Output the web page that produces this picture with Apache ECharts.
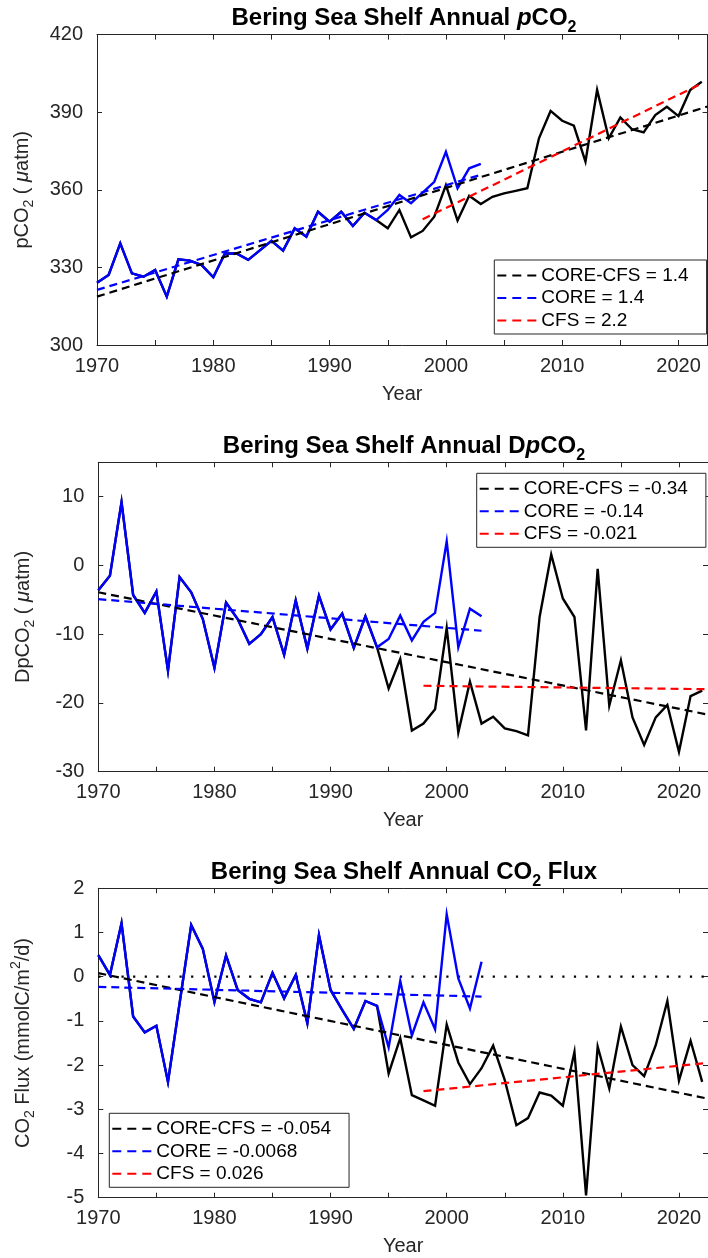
<!DOCTYPE html>
<html><head><meta charset="utf-8">
<script src="https://cdn.jsdelivr.net/npm/echarts@6/dist/echarts.min.js"></script>
<style>html,body{margin:0;padding:0;background:#fff}#c{width:708px;height:1258px}</style>
</head><body><div id="c"></div>
<script>
// ---------------- DATA ----------------
const years = [1970,1971,1972,1973,1974,1975,1976,1977,1978,1979,1980,1981,1982,1983,1984,1985,1986,1987,1988,1989,
  1990,1991,1992,1993,1994,1995,1996,1997,1998,1999,2000,2001,2002,2003,2004,2005,2006,2007,2008,2009,
  2010,2011,2012,2013,2014,2015,2016,2017,2018,2019,2020,2021,2022];
const coreYears = [1970,1971,1972,1973,1974,1975,1976,1977,1978,1979,1980,1981,1982,1983,1984,1985,1986,1987,1988,1989,
  1990,1991,1992,1993,1994,1995,1996,1997,1998,1999,2000,2001,2002,2003];

// Panel 1: pCO2 (uatm)
const pco2CoreCfs = [324.1,327.1,339.3,327.7,326.4,329.0,318.7,333.1,332.6,330.9,326.2,335.4,335.4,332.9,336.6,340.3,336.5,345.1,341.9,351.5,
  347.7,351.5,346.0,351.1,348.3,345.1,352.2,341.6,344.1,349.6,361.8,348.1,357.7,354.5,357.3,358.6,359.6,360.6,379.9,390.5,
  386.7,384.8,370.9,398.6,379.9,388.0,383.4,382.2,388.9,392.1,388.5,398.6,401.8];
const pco2Core = [324.1,327.1,339.3,327.7,326.4,329.0,318.7,333.1,332.6,330.9,326.2,335.4,335.4,332.9,336.6,340.3,336.5,345.1,341.9,351.5,
  347.7,351.5,346.0,351.1,348.3,352.2,358.0,354.8,358.9,363.1,374.7,360.6,368.3,370.0];
const pco2TrendCoreCfs = [[1970, 318.7], [2022.5, 392.2]];
const pco2TrendCore    = [[1970, 321.3], [2003, 365.8]];
const pco2TrendCfs     = [[1998, 348.6], [2022, 401.1]];

// Panel 2: DpCO2 (uatm)
const dpco2CoreCfs = [-3.6,-1.5,9.2,-4.3,-6.9,-3.8,-15.3,-1.7,-3.9,-7.8,-14.9,-5.4,-7.8,-11.4,-10.0,-7.5,-13.0,-5.1,-12.1,-4.4,
  -9.3,-7.0,-12.0,-7.4,-11.9,-17.9,-13.6,-24.0,-23.0,-20.9,-9.1,-24.3,-16.9,-23.0,-22.0,-23.7,-24.1,-24.7,-7.5,1.6,
  -4.8,-7.5,-24.0,-0.5,-20.4,-13.8,-22.1,-26.1,-22.1,-20.3,-27.1,-19.0,-18.2];
const dpco2Core = [-3.6,-1.5,9.2,-4.3,-6.9,-3.8,-15.3,-1.7,-3.9,-7.8,-14.9,-5.4,-7.8,-11.4,-10.0,-7.5,-13.0,-5.1,-12.1,-4.4,
  -9.3,-7.0,-12.0,-7.4,-11.9,-10.7,-7.3,-10.9,-8.2,-6.9,3.5,-11.9,-6.3,-7.4];
const dpco2TrendCoreCfs = [[1970, -3.9], [2022.5, -21.7]];
const dpco2TrendCore    = [[1970, -4.9], [2003, -9.5]];
const dpco2TrendCfs     = [[1998, -17.5], [2022.5, -18.0]];

// Panel 3: CO2 flux (mmolC/m2/d)
const fluxCoreCfs = [0.49,0.04,1.21,-0.90,-1.26,-1.11,-2.38,-0.60,1.17,0.63,-0.57,0.48,-0.30,-0.50,-0.58,0.09,-0.49,0.04,-1.05,0.94,
  -0.30,-0.75,-1.18,-0.55,-0.66,-2.19,-1.39,-2.68,-2.80,-2.92,-1.08,-1.94,-2.43,-2.07,-1.56,-2.34,-3.36,-3.20,-2.62,-2.69,
  -2.92,-1.70,-4.95,-1.58,-2.53,-1.13,-2.00,-2.25,-1.55,-0.55,-2.35,-1.45,-2.38];
const fluxCore = [0.49,0.04,1.21,-0.90,-1.26,-1.11,-2.38,-0.60,1.17,0.63,-0.57,0.48,-0.30,-0.50,-0.58,0.09,-0.49,0.04,-1.05,0.94,
  -0.30,-0.75,-1.18,-0.55,-0.66,-1.60,-0.10,-1.33,-0.58,-1.19,1.41,-0.04,-0.72,0.34];
const fluxTrendCoreCfs = [[1970, 0.08], [2022.5, -2.76]];
const fluxTrendCore    = [[1970, -0.23], [2003, -0.45]];
const fluxTrendCfs     = [[1998, -2.59], [2022.5, -1.95]];
const fluxZeroLine     = [[1970, 0], [2022.5, 0]];

const legendNames = [
  ['CORE-CFS = 1.4', 'CORE = 1.4', 'CFS = 2.2'],
  ['CORE-CFS = -0.34', 'CORE = -0.14', 'CFS = -0.021'],
  ['CORE-CFS = -0.054', 'CORE = -0.0068', 'CFS = 0.026']
];
const titles = [
  'Bering Sea Shelf Annual {i|p}CO{s|2}',
  'Bering Sea Shelf Annual D{i|p}CO{s|2}',
  'Bering Sea Shelf Annual CO{s|2} Flux'
];
const yNames = [
  'pCO{s|2} ( {i|μ}atm)',
  'DpCO{s|2} ( {i|μ}atm)',
  'CO{s|2} Flux (mmolC/m{u|2}/d)'
];
const yTicks = [
  {min: 300, max: 420, interval: 30},
  {min: -30, max: 15, interval: 10},
  {min: -5, max: 2, interval: 1}
];
const xTicks = {min: 1970, max: 2022.5, interval: 5, labelEvery: 10};

// ---------------- LAYOUT / STYLE ----------------
const FF = "'Liberation Sans', Arial, Helvetica, sans-serif";
const AX = '#262626';
const grids = [
  {left: 97,   top: 34.6,  width: 610.6, height: 310.4},
  {left: 98.3, top: 462.3, width: 609.9, height: 309.4},
  {left: 98.3, top: 888.3, width: 609.9, height: 309.4}
];
const legendBoxes = [
  {left: 494.3, top: 260},
  {left: 476.7, top: 473.3},
  {left: 109.3, top: 1113.3}
];
const DASH = [8, 5];
const LEGEND_ICON = 'path://M0,0H9V2H0Z M15,0H24V2H15Z M30,0H39V2H30Z';

const subRich = {
  i: {fontStyle: 'italic', fontFamily: FF, fontSize: 20, color: AX},
  s: {fontFamily: FF, fontSize: 14, color: AX, padding: [14, 0, 0, 0], lineHeight: 24},
  u: {fontFamily: FF, fontSize: 14, color: AX, padding: [0, 0, 14, 0], lineHeight: 24}
};
const titleRich = {
  i: {fontStyle: 'italic', fontWeight: 'bold', fontFamily: FF, fontSize: 24, color: '#000', lineHeight: 28},
  s: {fontWeight: 'bold', fontFamily: FF, fontSize: 16, color: '#000', padding: [18, 0, 0, 0], lineHeight: 28}
};

const xAxis = [], yAxis = [], title = [], legend = [], series = [];

grids.forEach((g, gi) => {
  const axLine = {show: true, onZero: false, lineStyle: {color: AX, width: 1}};
  const tick = {show: true, inside: true, length: 5, lineStyle: {color: AX, width: 1}};
  xAxis.push({
    gridIndex: gi, type: 'value', position: 'bottom',
    min: xTicks.min, max: xTicks.max, interval: xTicks.interval,
    axisLine: axLine, axisTick: tick, splitLine: {show: false},
    axisLabel: {margin: 11, fontSize: 20, fontFamily: FF, color: AX, showMaxLabel: false,
      formatter: v => (v % xTicks.labelEvery === 0 ? String(v) : '')},
    name: 'Year', nameLocation: 'middle', nameGap: 39,
    nameTextStyle: {fontSize: 20, fontFamily: FF, color: AX}
  });
  xAxis.push({
    gridIndex: gi, type: 'value', position: 'top',
    min: xTicks.min, max: xTicks.max, interval: xTicks.interval,
    axisLine: axLine, axisTick: tick, splitLine: {show: false}, axisLabel: {show: false}
  });
  const yt = yTicks[gi];
  yAxis.push({
    gridIndex: gi, type: 'value', position: 'left',
    min: yt.min, max: yt.max, interval: yt.interval,
    axisLine: axLine, axisTick: tick, splitLine: {show: false},
    axisLabel: {margin: 14, fontSize: 20, fontFamily: FF, color: AX,
      formatter: v => (Math.abs((v - yt.min) % yt.interval) < 1e-9 ? String(v) : '')},
    name: yNames[gi], nameLocation: 'middle', nameGap: 63, nameRotate: 90,
    nameTextStyle: {fontSize: 20, fontFamily: FF, color: AX, lineHeight: 24, rich: subRich}
  });
  yAxis.push({
    gridIndex: gi, type: 'value', position: 'right',
    min: yt.min, max: yt.max, interval: yt.interval,
    axisLine: axLine, axisTick: tick, splitLine: {show: false}, axisLabel: {show: false}
  });
  title.push({
    text: titles[gi], left: 404, top: g.top - 30, textAlign: 'center', padding: 0,
    textStyle: {fontSize: 24, fontWeight: 'bold', fontFamily: FF, color: '#000', lineHeight: 28, rich: titleRich}
  });
  legend.push({
    show: true, orient: 'vertical', left: legendBoxes[gi].left, top: legendBoxes[gi].top,
    data: legendNames[gi], selectedMode: false,
    icon: LEGEND_ICON, symbolKeepAspect: false,
    itemWidth: 39, itemHeight: 2, itemGap: 1.5,
    padding: [5, 18, 3, 3],
    backgroundColor: '#fff', borderColor: AX, borderWidth: 1, borderRadius: 0,
    itemStyle: {borderWidth: 0},
    textStyle: {fontSize: 19, fontFamily: FF, color: '#000', lineHeight: 21}
  });
});

const datasets = [
  {black: pco2CoreCfs, blue: pco2Core, tr: [pco2TrendCoreCfs, pco2TrendCore, pco2TrendCfs]},
  {black: dpco2CoreCfs, blue: dpco2Core, tr: [dpco2TrendCoreCfs, dpco2TrendCore, dpco2TrendCfs]},
  {black: fluxCoreCfs, blue: fluxCore, tr: [fluxTrendCoreCfs, fluxTrendCore, fluxTrendCfs]}
];
const trendColors = ['#000000', '#0000ff', '#ff0000'];

function line(gi, name, data, color, type, z, width) {
  return {
    type: 'line', name, data, xAxisIndex: gi * 2, yAxisIndex: gi * 2,
    symbol: 'none', showSymbol: false, silent: true, animation: false, z,
    lineStyle: {color, width: width || 2.2, type, cap: 'butt', join: 'miter'}, itemStyle: {color}
  };
}

datasets.forEach((d, gi) => {
  if (gi === 2) {
    series.push(line(gi, 'zero', fluxZeroLine, '#000000', [2.2, 9.4], 1, 2.2));
  }
  series.push(line(gi, 'CORE-CFS data ' + gi, years.map((y, i) => [y, d.black[i]]), '#000000', 'solid', 2, 2.4));
  series.push(line(gi, 'CORE data ' + gi, coreYears.map((y, i) => [y, d.blue[i]]), '#0000ff', 'solid', 3, 2.4));
  d.tr.forEach((t, k) => {
    series.push(line(gi, legendNames[gi][k], t, trendColors[k], DASH, 4 + k, 2.2));
  });
});

const chart = echarts.init(document.getElementById('c'), null, {renderer: 'canvas'});
chart.setOption({
  backgroundColor: '#ffffff',
  animation: false,
  grid: grids.map(g => ({left: g.left, top: g.top, width: g.width, height: g.height, containLabel: false})),
  xAxis, yAxis, title, legend, series
});
</script>
</body></html>
